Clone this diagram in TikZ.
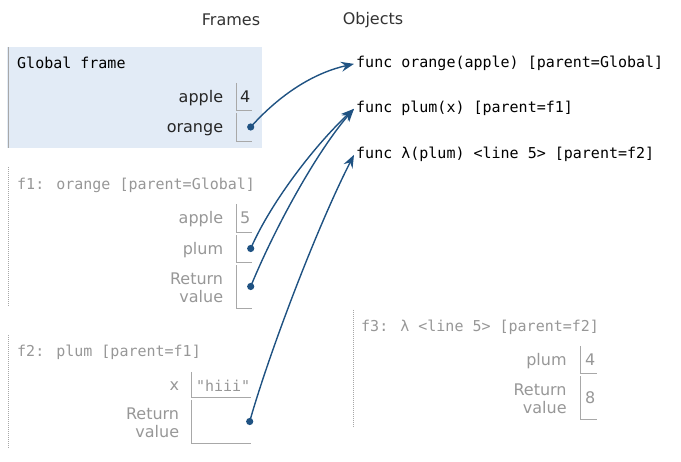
\documentclass[tikz,border=0pt]{standalone}
\usepackage{fontspec}
\setmainfont{DejaVu Sans}
\newfontfamily\monofam{DejaVu Sans Mono}
\usetikzlibrary{positioning, arrows.meta}
\definecolor{PtrBlu}  {HTML}{1F5282}
\definecolor{FrameBg} {HTML}{E2EBF6}
\definecolor{EdgeGry} {HTML}{A8A8A8}
\definecolor{DimGry}  {HTML}{979797}
\definecolor{InkGry}  {HTML}{333333}

\begin{document}
\begin{tikzpicture}[
  x=1pt, y=-1pt, >={Stealth[length=13pt, width=10pt, inset=4.5pt]},
  hdr/.style    = {font=\fontsize{16}{18}\selectfont, text=InkGry, inner sep=0pt},
  codetxt/.style= {font=\monofam\fontsize{15}{18}\selectfont, inner sep=0pt,
                   anchor=base west},
  objtxt/.style = {codetxt, inner xsep=2pt},
  lbl/.style    = {font=\fontsize{16}{18}\selectfont, inner sep=0pt,
                   text height=10pt, text depth=1.6pt, yshift=-1.5pt},
  lbl2/.style   = {font=\fontsize{16}{18}\selectfont, inner sep=0pt,
                   align=right, yshift=-1.5pt},
  val/.style    = {font=\fontsize{16}{18}\selectfont, inner sep=0pt,
                   text height=10pt, text depth=1.6pt, yshift=-1.5pt},
  slot/.style   = {inner sep=0pt, minimum width=15pt},
  slotln/.style = {draw=EdgeGry, line width=1pt},
  stub/.style   = {DimGry!85, dash pattern=on 1pt off 1pt, line width=1pt},
  ptr/.style    = {->, PtrBlu, line width=1.4pt},
]
\useasboundingbox (0,0) rectangle (681,462);

% ── Column headings ───────────────────────────────────────────────────────────
\node[hdr] (hframes)  at (231,20) {Frames};
\node[hdr] (hobjects) at (373,20) {Objects};

% ── Global frame ──────────────────────────────────────────────────────────────
\fill[FrameBg] (7,47) rectangle (262,148);
\draw[EdgeGry, line width=1pt] (8,47) -- (8,148);
\node[codetxt] (g_title) at (17,69) {Global frame};

\node[slot, minimum height=27pt] (g_apple)  at (244.5, 96.5) {};
\node[slot, minimum height=28pt] (g_orange) at (244.5,127  ) {};
\node[lbl, text=black!85, left=13.5pt of g_apple]  {apple};
\node[lbl, text=black!85, left=13.5pt of g_orange] {orange};
\node[val, text=black!85, right=3pt of g_apple.west] {4};

% ── f1: orange ────────────────────────────────────────────────────────────────
\draw[stub] (8,167) -- (8,307);
\node[codetxt, text=DimGry] (f1_title) at (17,190) {f1: orange [parent=Global]};

\node[slot, minimum height=28pt] (f1_apple) at (244.5,218  ) {};
\node[slot, minimum height=27pt] (f1_plum)  at (244.5,248.5) {};
\node[slot, minimum height=43pt] (f1_ret)   at (244.5,286.5) {};
\node[lbl,  text=DimGry, left=13.5pt of f1_apple] {apple};
\node[lbl,  text=DimGry, left=13.5pt of f1_plum]  {plum};
\node[lbl2, text=DimGry, left=13.5pt of f1_ret]   {Return\\value};
\node[val,  text=DimGry, right=3pt of f1_apple.west] {5};

% ── f2: plum ──────────────────────────────────────────────────────────────────
\draw[stub] (8,335) -- (8,448);
\node[codetxt, text=DimGry] (f2_title) at (17,357) {f2: plum [parent=f1]};

\node[slot, minimum width=59pt, minimum height=25pt] (f2_x)   at (221.5,384.5) {};
\node[slot, minimum width=59pt, minimum height=43pt] (f2_ret) at (221.5,421.5) {};
\node[lbl,  text=DimGry, left=12.5pt of f2_x]   {x};
\node[lbl2, text=DimGry, left=12.5pt of f2_ret] {Return\\value};
\node[codetxt, text=DimGry, anchor=west, yshift=-1pt,
      right=4pt of f2_x.west] {"hiii"};

% ── f3: lambda ────────────────────────────────────────────────────────────────
\draw[stub] (353,310) -- (353,427);
\node[codetxt, text=DimGry] (f3_title) at (361,332) {f3: λ <line 5> [parent=f2]};

\node[slot, minimum width=16pt, minimum height=27pt] (f3_plum) at (589,359.5) {};
\node[slot, minimum width=16pt, minimum height=43pt] (f3_ret)  at (589,397.5) {};
\node[lbl,  text=DimGry, left=14pt of f3_plum] {plum};
\node[lbl2, text=DimGry, left=14pt of f3_ret]  {Return\\value};
\node[val,  text=DimGry, right=4pt of f3_plum.west] {4};
\node[val,  text=DimGry, right=4pt of f3_ret.west]  {8};

% ── Cell borders ──────────────────────────────────────────────────────────────
\foreach \c in {g_apple,g_orange,f1_apple,f1_plum,f1_ret,f2_x,f2_ret,f3_plum,f3_ret}{
  \draw[slotln] (\c.north west) |- (\c.south east);
}

% ── Heap objects ──────────────────────────────────────────────────────────────
\node[objtxt] (fn_orange) at (354, 68) {func orange(apple) [parent=Global]};
\node[objtxt] (fn_plum)   at (354,113) {func plum(x) [parent=f1]};
\node[objtxt] (fn_lam)    at (354,159) {func λ(plum) <line 5> [parent=f2]};

% ── Pointers ──────────────────────────────────────────────────────────────────
\coordinate (p_orange) at ([xshift=-1.5pt]g_orange.east);
\coordinate (p_plum)   at ([xshift=-1.5pt]f1_plum.east);
\coordinate (p_ret1)   at ([xshift=-1.5pt]f1_ret.east);
\coordinate (p_ret2)   at ([xshift=-1.5pt]f2_ret.east);
\foreach \p in {p_orange,p_plum,p_ret1,p_ret2}{
  \fill[PtrBlu] (\p) circle (3.6);
}

\draw[ptr] (p_orange) .. controls (284,90)  and (318,72)  .. (fn_orange.west);
\draw[ptr] (p_plum)   .. controls (272,200) and (317,143) .. (fn_plum.west);
\draw[ptr] (p_ret1)   .. controls (276,225) and (318,150) .. (fn_plum.west);
\draw[ptr] (p_ret2)   .. controls (270,350) and (318,225) .. (fn_lam.west);

\end{tikzpicture}
\end{document}
